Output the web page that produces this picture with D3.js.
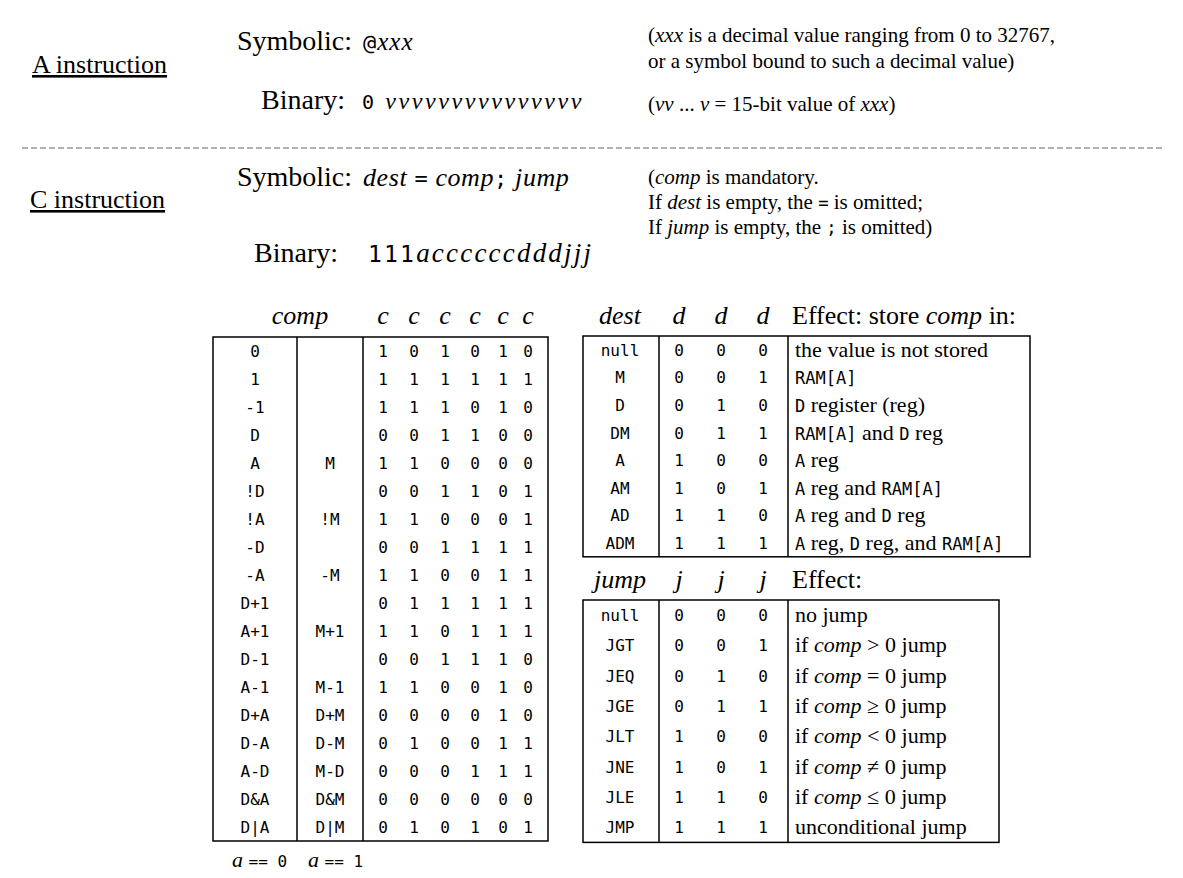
<!DOCTYPE html>
<html><head><meta charset="utf-8">
<script src="https://cdn.jsdelivr.net/npm/d3@7"></script>
<style>body{margin:0;background:#fff}</style>
</head><body>
<script>
// ----- data -----
const compA0 = ["0","1","-1","D","A","!D","!A","-D","-A","D+1","A+1","D-1","A-1","D+A","D-A","A-D","D&A","D|A"];
const compA1 = ["","","","","M","","!M","","-M","","M+1","","M-1","D+M","D-M","M-D","D&M","D|M"];
const compBits = ["101010","111111","111010","001100","110000","001101","110001","001111","110011","011111","110111","001110","110010","000010","010011","000111","000000","010101"];
const destNames = ["null","M","D","DM","A","AM","AD","ADM"];
const destBits = ["000","001","010","011","100","101","110","111"];
const destEffect = ["the value is not stored","`RAM[A]`","`D` register (reg)","`RAM[A]` and `D` reg","`A` reg","`A` reg and `RAM[A]`","`A` reg and `D` reg","`A` reg, `D` reg, and `RAM[A]`"];
const jumpNames = ["null","JGT","JEQ","JGE","JLT","JNE","JLE","JMP"];
const jumpBits = ["000","001","010","011","100","101","110","111"];
const jumpEffect = ["no jump","if *comp* > 0 jump","if *comp* = 0 jump","if *comp* ≥ 0 jump","if *comp* < 0 jump","if *comp* ≠ 0 jump","if *comp* ≤ 0 jump","unconditional jump"];

const W = 1183, H = 878;
const SERIF = "'Liberation Serif','Times New Roman',serif";
const MONO = "'DejaVu Sans Mono',monospace";
const svg = d3.select("body").append("svg").attr("width", W).attr("height", H);

// rich text: `mono`, *italic*
function rich(sel, str, size, monoSize) {
  str.split(/(`[^`]*`|\*[^*]*\*)/).filter(s => s.length).forEach(s => {
    const t = sel.append("tspan");
    if (s[0] === "`") t.text(s.slice(1, -1)).attr("font-family", MONO).attr("font-size", monoSize || size * 0.82);
    else if (s[0] === "*") t.text(s.slice(1, -1)).attr("font-style", "italic");
    else t.text(s);
  });
}
function txt(x, y, str, size, anchor, mono) {
  const t = svg.append("text").attr("x", x).attr("y", y)
    .attr("font-family", SERIF).attr("font-size", size).attr("text-anchor", anchor || "start");
  rich(t, str, size, mono);
  return t;
}

// ----- top: A / C instruction -----
txt(32, 73, "A instruction", 26).attr("text-decoration", "underline");
txt(352, 50, "Symbolic:", 28, "end");
txt(363, 50, "`@`*xxx*", 25, "start", 22).attr("letter-spacing", 1);
txt(648, 42, "(*xxx* is a decimal value ranging from 0 to 32767,", 21);
txt(648, 68, "or a symbol bound to such a decimal value)", 21);
txt(345, 109, "Binary:", 28, "end");
txt(362, 109, "`0` *vvvvvvvvvvvvvvv*", 24, "start", 20).attr("letter-spacing", 2.6);
txt(648, 111, "(*vv* ... *v* = 15-bit value of *xxx*)", 21);

svg.append("line").attr("x1", 22).attr("x2", 1165).attr("y1", 148).attr("y2", 148)
  .attr("stroke", "#999").attr("stroke-width", 1.5).attr("stroke-dasharray", "6,3");

txt(30, 208, "C instruction", 26).attr("text-decoration", "underline");
txt(352, 186, "Symbolic:", 28, "end");
txt(363, 186, "*dest* `=` *comp*`;` *jump*", 26, "start", 22).attr("letter-spacing", 0.6);
txt(648, 184, "(*comp* is mandatory.", 21);
txt(648, 209, "If *dest* is empty, the `=` is omitted;", 21);
txt(648, 234, "If *jump* is empty, the `;` is omitted)", 21);
txt(338, 262, "Binary:", 28, "end");
txt(368, 262, "`111`*accccccdddjjj*", 27, "start", 23).attr("letter-spacing", 2.2);

// ----- comp table -----
const rowH = 28;
const compY = d3.scaleBand().domain(d3.range(compA0.length)).range([337, 337 + rowH * compA0.length]);
const compBitX = d3.scaleOrdinal().domain(d3.range(6)).range([383, 414, 445, 475, 503, 528]);
const g1 = svg.append("g");
g1.append("rect").attr("x", 213).attr("y", compY.range()[0]).attr("width", 548 - 213)
  .attr("height", compY.range()[1] - compY.range()[0]).attr("fill", "none").attr("stroke", "#000").attr("stroke-width", 1.5);
[297, 363].forEach(x => g1.append("line").attr("x1", x).attr("x2", x)
  .attr("y1", compY.range()[0]).attr("y2", compY.range()[1]).attr("stroke", "#000").attr("stroke-width", 1.5));
txt(300, 324, "*comp*", 26, "middle");
d3.range(6).forEach(i => txt(compBitX(i), 324, "*c*", 26, "middle"));
const rows1 = g1.selectAll("g").data(compA0).join("g")
  .attr("transform", (d, i) => `translate(0,${compY(i) + rowH / 2 + 6})`)
  .attr("font-family", MONO).attr("font-size", 16).attr("text-anchor", "middle");
rows1.append("text").attr("x", 255).text(d => d);
rows1.append("text").attr("x", 330).text((d, i) => compA1[i]);
rows1.selectAll("text.b").data((d, i) => compBits[i].split("")).join("text").attr("class", "b")
  .attr("x", (d, j) => compBitX(j)).text(d => d);
txt(232, 867, "*a* `== 0`", 22, "start", 16);
txt(308, 867, "*a* `== 1`", 22, "start", 16);

// ----- dest / jump tables -----
function bitTable(y0, rh, right, names, bits, effects, hdr, letter, hdrEffect) {
  const y = d3.scaleBand().domain(d3.range(names.length)).range([y0, y0 + rh * names.length]);
  const bx = d3.scaleOrdinal().domain([0, 1, 2]).range([679, 721, 763]);
  const g = svg.append("g");
  g.append("rect").attr("x", 583).attr("y", y0).attr("width", right - 583)
    .attr("height", rh * names.length).attr("fill", "none").attr("stroke", "#000").attr("stroke-width", 1.5);
  [659, 788].forEach(x => g.append("line").attr("x1", x).attr("x2", x).attr("y1", y0)
    .attr("y2", y0 + rh * names.length).attr("stroke", "#000").attr("stroke-width", 1.5));
  txt(620, y0 - 12, `*${hdr}*`, 26, "middle");
  [0, 1, 2].forEach(i => txt(bx(i), y0 - 12, `*${letter}*`, 26, "middle"));
  txt(792, y0 - 12, hdrEffect, 26);
  const r = g.selectAll("g.r").data(names).join("g").attr("class", "r")
    .attr("transform", (d, i) => `translate(0,${y(i) + rh / 2 + 6})`);
  r.append("text").attr("x", 620).attr("font-family", MONO).attr("font-size", 16).attr("text-anchor", "middle").text(d => d);
  r.each(function (d, i) {
    const gg = d3.select(this);
    bits[i].split("").forEach((b, j) => gg.append("text").attr("x", bx(j)).attr("font-family", MONO)
      .attr("font-size", 16).attr("text-anchor", "middle").text(b));
    const t = gg.append("text").attr("x", 795).attr("y", 1).attr("font-family", SERIF).attr("font-size", 22);
    rich(t, effects[i], 22, 17);
  });
}
bitTable(336, 27.6, 1030, destNames, destBits, destEffect, "dest", "d", "Effect: store *comp* in:");
bitTable(600, 30.3, 999, jumpNames, jumpBits, jumpEffect, "jump", "j", "Effect:");
</script>
</body></html>
